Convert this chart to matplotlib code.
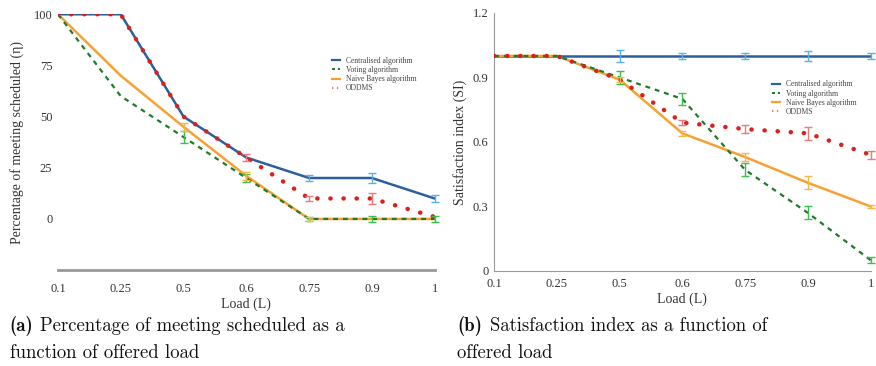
import matplotlib
matplotlib.use("Agg")
import matplotlib.pyplot as plt
from matplotlib.lines import Line2D
import numpy as np

loads = ["0.1", "0.25", "0.5", "0.6", "0.75", "0.9", "1"]

# (a) Percentage of meetings scheduled
pct_central = [100, 100, 50, 30, 20, 20, 10]
pct_central_err = [0, 0, 0, 0, 1.5, 2.5, 1.5]
pct_voting = [100, 60, 40, 20, 0, 0, 0]
pct_voting_err = [0, 0, 3, 2, 1, 1.5, 1.5]
pct_bayes = [100, 70, 45, 21, 0, 0, 0]
pct_bayes_err = [0, 0, 2, 2, 1, 0, 0]
pct_oddms = [100, 100, 50, 30, 10, 10, 1]
pct_oddms_err = [0, 0, 0, 1.5, 1, 2.5, 0]

# (b) Satisfaction index
si_central = [1, 1, 1, 1, 1, 1, 1]
si_central_err = [0, 0, 0.03, 0.015, 0.015, 0.025, 0.015]
si_voting = [1, 1, 0.9, 0.8, 0.47, 0.27, 0.05]
si_voting_err = [0, 0, 0.03, 0.03, 0.03, 0.03, 0.015]
si_bayes = [1, 1, 0.89, 0.64, 0.53, 0.41, 0.30]
si_bayes_err = [0, 0, 0.01, 0.01, 0.02, 0.03, 0.005]
si_oddms = [1, 1, 0.89, 0.69, 0.66, 0.64, 0.54]
si_oddms_err = [0, 0, 0, 0.01, 0.02, 0.03, 0.02]

labels = ["Centralised algorithm", "Voting algorithm", "Naive Bayes algorithm", "ODDMS"]

C_BLUE, C_BLUE_E = "#2b5f9e", "#5ab0e6"
C_GREEN, C_GREEN_E = "#1f7a2a", "#3cbf4a"
C_ORANGE, C_ORANGE_E = "#f7a133", "#f7b64a"
C_RED, C_RED_E = "#d8201c", "#e87a7a"

plt.rcParams['font.family'] = ['Liberation Serif', 'DejaVu Serif']

fig = plt.figure(figsize=(8.76, 3.66), dpi=100)
ax1 = fig.add_axes([0.0662, 0.262, 0.430, 0.699])
ax2 = fig.add_axes([0.564, 0.2596, 0.430, 0.705])

x = np.arange(len(loads))

def draw(ax, series):
    for (y, e, c, ce, ls, lw, lab) in series:
        if ls == "dots":
            ax.plot(x, y, color=c, lw=3.2, linestyle=(0, (0.05, 2.9)),
                    dash_capstyle="round", zorder=3)
        elif ls == "dash":
            ax.plot(x, y, color=c, lw=1.6, linestyle=(0, (2.2, 2.2)), zorder=3)
        else:
            ax.plot(x, y, color=c, lw=lw, zorder=2)
        ex = [xi for xi, ei in zip(x, e) if ei > 0]
        ey = [yi for yi, ei in zip(y, e) if ei > 0]
        ee = [ei for ei in e if ei > 0]
        if ex:
            _, caps, bars = ax.errorbar(ex, ey, yerr=ee, fmt="none", ecolor=ce,
                                        elinewidth=1.0, capsize=3, capthick=1.0, zorder=4)
            for a in list(caps) + list(bars):
                a.set_clip_on(False)

draw(ax1, [
    (pct_central, pct_central_err, C_BLUE, C_BLUE_E, "solid", 1.8, labels[0]),
    (pct_voting, pct_voting_err, C_GREEN, C_GREEN_E, "dash", 1.6, labels[1]),
    (pct_bayes, pct_bayes_err, C_ORANGE, C_ORANGE_E, "solid", 1.8, labels[2]),
    (pct_oddms, pct_oddms_err, C_RED, C_RED_E, "dots", 3, labels[3]),
])
draw(ax2, [
    (si_central, si_central_err, C_BLUE, C_BLUE_E, "solid", 1.8, labels[0]),
    (si_voting, si_voting_err, C_GREEN, C_GREEN_E, "dash", 1.6, labels[1]),
    (si_bayes, si_bayes_err, C_ORANGE, C_ORANGE_E, "solid", 1.8, labels[2]),
    (si_oddms, si_oddms_err, C_RED, C_RED_E, "dots", 3, labels[3]),
])

for ax in (ax1, ax2):
    ax.set_xlim(0, len(loads) - 1)
    ax.set_xticks(x)
    ax.set_xticklabels(loads)
    ax.tick_params(length=0, labelsize=9, colors="#333333")
    for s in ("top", "right"):
        ax.spines[s].set_visible(False)
    ax.set_xlabel("Load (L)", fontsize=10, color="#333333", labelpad=2)

ax1.set_ylim(-25, 100)
ax1.set_yticks([0, 25, 50, 75, 100])
ax1.spines["left"].set_visible(False)
ax1.spines["bottom"].set_color("#999999")
ax1.spines["bottom"].set_linewidth(2)
ax1.tick_params(axis="x", pad=9)
ax1.tick_params(axis="y", pad=4)
ax1.set_ylabel("Percentage of meeting scheduled (\u03b7)", fontsize=10, color="#333333", labelpad=7)

ax2.set_ylim(0, 1.2)
ax2.set_yticks([0, 0.3, 0.6, 0.9, 1.2])
ax2.set_yticklabels(["0", "0.3", "0.6", "0.9", "1.2"])
ax2.spines["left"].set_color("#999999")
ax2.spines["bottom"].set_color("#999999")
ax2.tick_params(axis="x", pad=5)
ax2.tick_params(axis="y", pad=4)
ax2.set_ylabel("Satisfaction index (SI)", fontsize=10, color="#333333", labelpad=4)

handles = [
    Line2D([], [], color=C_BLUE, lw=1.6),
    Line2D([], [], color=C_GREEN, lw=1.4, linestyle=(0, (1.5, 1.5))),
    Line2D([], [], color=C_ORANGE, lw=1.6),
    Line2D([], [], color=C_RED_E, lw=1.6, linestyle=(0, (0.6, 1.6))),
]
leg_kw = dict(fontsize=5.5, frameon=False, handlelength=1.0, handletextpad=0.8,
              labelspacing=0.15, labelcolor="#444444")
ax1.legend(handles, labels, loc="upper left", bbox_to_anchor=(0.71, 0.86), **leg_kw)
ax2.legend(handles, labels, loc="upper left", bbox_to_anchor=(0.72, 0.765), **leg_kw)

cap_kw = dict(fontsize=13.5, family="cmr10", color="#111111")
fig.text(0.011, 0.095, "(a)", fontsize=13.5, family="cmb10", color="#111111")
fig.text(0.046, 0.095, "Percentage of meeting scheduled as a", **cap_kw)
fig.text(0.011, 0.022, "function of offered load", **cap_kw)
fig.text(0.522, 0.095, "(b)", fontsize=13.5, family="cmb10", color="#111111")
fig.text(0.559, 0.095, "Satisfaction index as a function of", **cap_kw)
fig.text(0.522, 0.022, "offered load", **cap_kw)

fig.savefig("out.png", dpi=100)
